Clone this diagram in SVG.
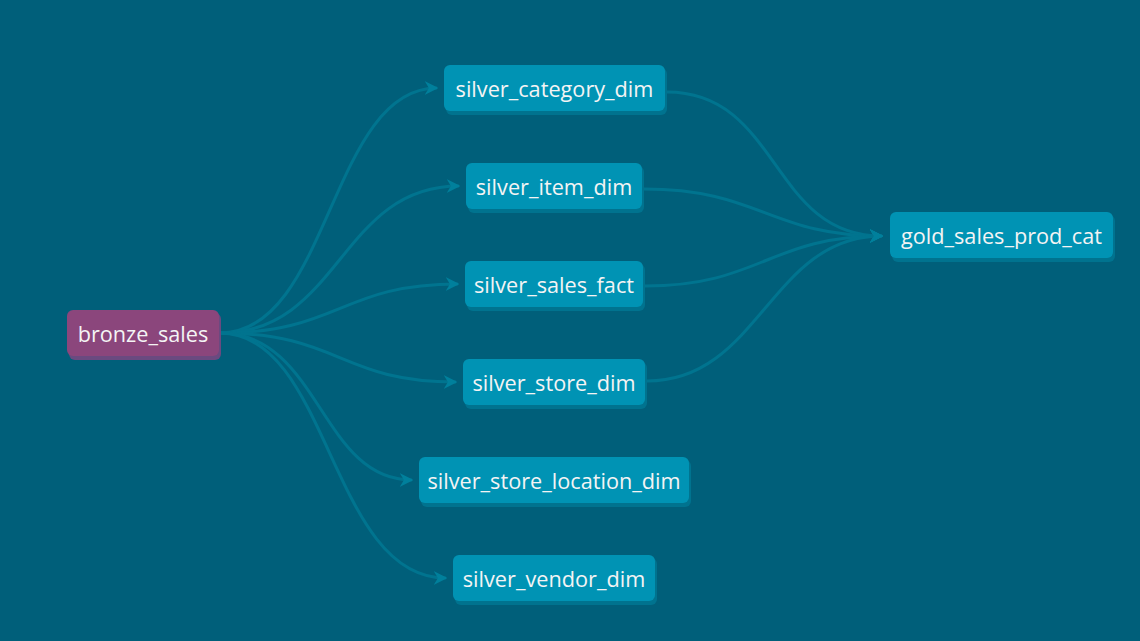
<svg xmlns="http://www.w3.org/2000/svg" width="1140" height="641" viewBox="0 0 1140 641">
<defs>
<marker id="arr" viewBox="0 0 10 10" refX="9" refY="5" markerWidth="4.5" markerHeight="4.5" orient="auto" markerUnits="strokeWidth">
<path d="M0,0 L10,5 L0,10 L3,5 Z" fill="#00809c"/>
</marker>
<style>
.e{fill:none;stroke:#00748f;stroke-width:3;marker-end:url(#arr)}
.sh{fill:#00738f}
.n{fill:#0093b4}
.bsh{fill:#6a4a80}
.b{fill:#8b467c}
text{font-family:"Open Sans","Noto Sans",sans-serif;font-size:21.7px;fill:#f4f4f4;text-anchor:middle;dominant-baseline:central}
</style>
</defs>
<rect width="1140" height="641" fill="#005f7a"/>
<g id="edges">
<path class="e" d="M220,333 C330,333 330,88 437,88"/>
<path class="e" d="M220,333 C340,333 340,186 459,186"/>
<path class="e" d="M220,333 C340,333 340,284 458,284"/>
<path class="e" d="M220,333 C340,333 340,382 456,382"/>
<path class="e" d="M220,333 C320,333 320,480 412,480"/>
<path class="e" d="M220,333 C330,333 330,578 446,578"/>
<path class="e" d="M667,92 C780,92 770,236 882,236"/>
<path class="e" d="M644,189 C760,189 770,236 882,236"/>
<path class="e" d="M645,286 C760,286 770,236 882,236"/>
<path class="e" d="M647,381 C760,381 770,236 882,236"/>
</g>
<g id="bronze_sales">
<rect class="bsh" x="69" y="313" width="152" height="47" rx="6"/>
<rect class="b" x="67" y="310" width="152" height="46" rx="6"/>
<text x="143" y="333">bronze_sales</text>
</g>
<g id="silver_category_dim">
<rect class="sh" x="446" y="68" width="221" height="47" rx="6"/>
<rect class="n" x="444" y="65" width="221" height="46" rx="6"/>
<text x="554.5" y="88">silver_category_dim</text>
</g>
<g id="silver_item_dim">
<rect class="sh" x="468" y="166" width="176" height="47" rx="6"/>
<rect class="n" x="466" y="163" width="176" height="46" rx="6"/>
<text x="554" y="186">silver_item_dim</text>
</g>
<g id="silver_sales_fact">
<rect class="sh" x="467" y="264" width="178" height="47" rx="6"/>
<rect class="n" x="465" y="261" width="178" height="46" rx="6"/>
<text x="554" y="284">silver_sales_fact</text>
</g>
<g id="silver_store_dim">
<rect class="sh" x="465" y="362" width="182" height="47" rx="6"/>
<rect class="n" x="463" y="359" width="182" height="46" rx="6"/>
<text x="554" y="382">silver_store_dim</text>
</g>
<g id="silver_store_location_dim">
<rect class="sh" x="421" y="460" width="270" height="47" rx="6"/>
<rect class="n" x="419" y="457" width="270" height="46" rx="6"/>
<text x="554" y="480">silver_store_location_dim</text>
</g>
<g id="silver_vendor_dim">
<rect class="sh" x="455" y="558" width="202" height="47" rx="6"/>
<rect class="n" x="453" y="555" width="202" height="46" rx="6"/>
<text x="554" y="578">silver_vendor_dim</text>
</g>
<g id="gold_sales_prod_cat">
<rect class="sh" x="892" y="215" width="223" height="47" rx="6"/>
<rect class="n" x="890" y="212" width="223" height="46" rx="6"/>
<text x="1001.5" y="235">gold_sales_prod_cat</text>
</g>
</svg>
